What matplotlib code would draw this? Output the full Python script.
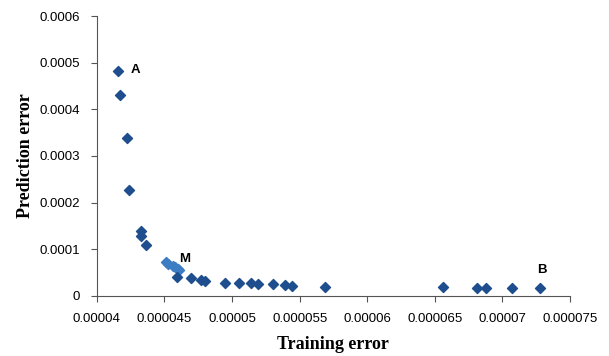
import numpy as np
import matplotlib
matplotlib.use("Agg")
import matplotlib.pyplot as plt

# Pareto front points (training error vs prediction error)
train_err = [0.00004155, 0.0000417, 0.0000422, 0.0000424, 0.0000433, 0.0000433,
             0.0000436, 0.0000459, 0.000047, 0.0000477, 0.000048, 0.0000495,
             0.0000505, 0.0000514, 0.0000519, 0.000053, 0.0000539, 0.0000544,
             0.0000569, 0.0000656, 0.0000681, 0.0000688, 0.0000707, 0.0000728]
pred_err = [0.000482, 0.000430, 0.000338, 0.000227, 0.000138, 0.000128,
            0.000109, 0.000040, 0.000038, 0.000034, 0.000032, 0.0000285,
            0.0000285, 0.000027, 0.000026, 0.000025, 0.000024, 0.000021,
            0.0000186, 0.000018, 0.000017, 0.000017, 0.000017, 0.000017]

# lighter points around "M"
cluster_x = [0.0000451, 0.0000453, 0.0000456, 0.0000458, 0.0000460, 0.0000461]
cluster_y = [0.000072, 0.000068, 0.000065, 0.000062, 0.000058, 0.000055]

xticks = [0.00004, 0.000045, 0.00005, 0.000055, 0.00006, 0.000065, 0.00007, 0.000075]
xlabels = ['0.00004', '0.000045', '0.00005', '0.000055', '0.00006', '0.000065', '0.00007', '0.000075']
yticks = [0, 0.0001, 0.0002, 0.0003, 0.0004, 0.0005, 0.0006]
ylabels = ['0', '0.0001', '0.0002', '0.0003', '0.0004', '0.0005', '0.0006']

fig = plt.figure(figsize=(6.09, 3.56), dpi=100, facecolor='white')
ax = fig.add_axes([0.159, 0.169, 0.777, 0.786])

ax.scatter(cluster_x, cluster_y, marker='D', s=26, color='#3c7dc4', zorder=3)
ax.scatter(train_err, pred_err, marker='D', s=26, color='#1f4e8f', zorder=4)

ax.text(0.0000425, 0.000484, 'A', fontsize=9.5, fontweight='bold', family='Liberation Sans', va='center')
ax.text(0.0000461, 0.000078, 'M', fontsize=9.5, fontweight='bold', family='Liberation Sans', va='center')
ax.text(0.0000726, 0.000055, 'B', fontsize=9.5, fontweight='bold', family='Liberation Sans', va='center')

ax.set_xlim(0.00004, 0.000075)
ax.set_ylim(0, 0.0006)
ax.set_xticks(xticks)
ax.set_xticklabels(xlabels, family='Liberation Sans', fontsize=9.5)
ax.set_yticks(yticks)
ax.set_yticklabels(ylabels, family='Liberation Sans', fontsize=9.5)

for s in ['top', 'right']:
    ax.spines[s].set_visible(False)
for s in ['left', 'bottom']:
    ax.spines[s].set_color('#555555')
ax.tick_params(direction='out', length=4, color='#555555', pad=8)

ax.set_xlabel('Training error', family='Liberation Serif', fontweight='bold', fontsize=13, labelpad=8)
ax.set_ylabel('Prediction error', family='Liberation Serif', fontweight='bold', fontsize=13, labelpad=4)

fig.savefig('out.png', dpi=100)
